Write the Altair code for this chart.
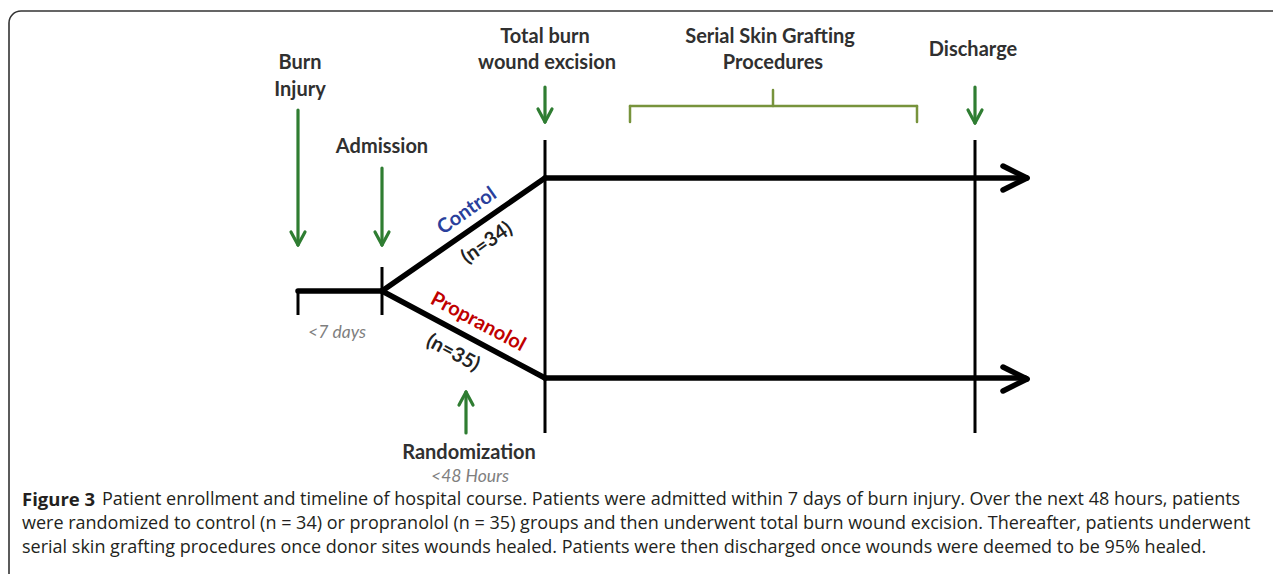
import altair as alt
import pandas as pd

# ---------------- diagram geometry (figure pixel units) ----------------
# thick black timeline segments
thick_x  = [298, 382, 382, 545, 545, 1003, 1027, 1003, 1027]
thick_y  = [291, 291, 291, 178, 378, 166, 178, 367, 379]
thick_x2 = [382, 545, 545, 1025, 1025, 1027, 1003, 1027, 1003]
thick_y2 = [291, 178, 378, 178, 378, 178, 190, 379, 391]

# thin black vertical milestone lines
thin_x  = [298, 382, 545, 975]
thin_y  = [292, 267, 140, 140]
thin_y2 = [315, 315, 433, 433]

# green arrows: shaft start/end (tip at end)
arrow_x   = [298, 382, 545, 975, 466]
arrow_y0  = [110, 168, 87, 87, 433]
arrow_tip = [245, 245, 122, 123, 392]

# olive brace
brace_x  = [630, 630, 917, 773]
brace_y  = [122, 106, 106, 106]
brace_x2 = [630, 917, 917, 773]
brace_y2 = [106, 106, 122, 90]

# labels
label_text = ["Burn", "Injury", "Admission", "Total burn", "wound excision",
              "Serial Skin Grafting", "Procedures", "Discharge", "Randomization"]
label_x = [300, 300, 382, 545, 547, 770, 773, 973, 469]
label_y = [63, 90, 147, 37, 63, 37, 63, 50, 453]

note_text = ["<7 days", "<48 Hours"]
note_x = [337, 470]
note_y = [333, 477]

arm_text  = ["Control", "(n=34)", "Propranolol", "(n=35)"]
arm_x     = [467, 487, 478, 453]
arm_y     = [211, 243, 322, 353]
arm_angle = [325, 325, 28, 28]
arm_color = ["#2a3f9c", "#222222", "#c00000", "#222222"]

cap_bold_text = ["Figure 3"]
cap_bold_x = [22]
cap_bold_y = [500]
cap_text = [
    "Patient enrollment and timeline of hospital course. Patients were admitted within 7 days of burn injury. Over the next 48 hours, patients",
    "were randomized to control (n = 34) or propranolol (n = 35) groups and then underwent total burn wound excision. Thereafter, patients underwent",
    "serial skin grafting procedures once donor sites wounds healed. Patients were then discharged once wounds were deemed to be 95% healed.",
]
cap_x = [102, 22, 22]
cap_y = [500, 524, 548]

# ---------------- build tables ----------------
GREEN = "#2f7d32"
X = alt.Scale(domain=[8, 1273])
Y = alt.Scale(domain=[8, 574], reverse=True)

def xq(f):
    return alt.X(f + ":Q", scale=X, axis=None)

def yq(f):
    return alt.Y(f + ":Q", scale=Y, axis=None)

thick = pd.DataFrame({"x": thick_x, "y": thick_y, "x2": thick_x2, "y2": thick_y2})
thin = pd.DataFrame({"x": thin_x, "y": thin_y, "x2": thin_x, "y2": thin_y2})

rows = []
for x, y0, t in zip(arrow_x, arrow_y0, arrow_tip):
    d = 1 if t > y0 else -1
    rows.append({"x": x, "y": y0, "x2": x, "y2": t - d * 2})
    rows.append({"x": x - 7, "y": t - d * 13, "x2": x, "y2": t})
    rows.append({"x": x + 7, "y": t - d * 13, "x2": x, "y2": t})
arrows = pd.DataFrame(rows)

brace = pd.DataFrame({"x": brace_x, "y": brace_y, "x2": brace_x2, "y2": brace_y2})
labels = pd.DataFrame({"t": label_text, "x": label_x, "y": label_y})
notes = pd.DataFrame({"t": note_text, "x": note_x, "y": note_y})
arms = pd.DataFrame({"t": arm_text, "x": arm_x, "y": arm_y, "a": arm_angle, "c": arm_color})
capb = pd.DataFrame({"t": cap_bold_text, "x": cap_bold_x, "y": cap_bold_y})
cap = pd.DataFrame({"t": cap_text, "x": cap_x, "y": cap_y})
frame = pd.DataFrame({"x": [9], "x2": [1320], "y": [11], "y2": [600]})

def seg(df, **kw):
    return alt.Chart(df).mark_rule(**kw).encode(
        x=xq("x"), y=yq("y"), x2="x2:Q", y2="y2:Q")

border = alt.Chart(frame).mark_rect(
    fill=None, stroke="#333333", strokeWidth=1.6, cornerRadius=12
).encode(x=xq("x"), x2="x2:Q", y=yq("y"), y2="y2:Q")

layers = [
    border,
    seg(thin, color="black", strokeWidth=3),
    seg(thick, color="black", strokeWidth=5.5, strokeCap="round"),
    seg(arrows, color=GREEN, strokeWidth=3.2, strokeCap="round"),
    seg(brace, color="#77933c", strokeWidth=2.5, strokeCap="round"),
    alt.Chart(labels).mark_text(font="Lato", fontWeight="bold", fontSize=20,
                                color="#303030", baseline="middle", align="center").encode(
        x=xq("x"), y=yq("y"), text="t:N"),
    alt.Chart(notes).mark_text(font="Lato", fontStyle="italic", fontSize=17.5,
                               color="#7f7f7f", baseline="middle", align="center").encode(
        x=xq("x"), y=yq("y"), text="t:N"),
    alt.Chart(arms).mark_text(font="Lato", fontWeight="bold", fontSize=20,
                              baseline="middle", align="center").encode(
        x=xq("x"), y=yq("y"), text="t:N",
        angle=alt.Angle("a:Q", scale=None), color=alt.Color("c:N", scale=None)),
    alt.Chart(capb).mark_text(font="Open Sans", fontWeight="bold", fontSize=18.5, color="#231f20",
                              baseline="middle", align="left").encode(
        x=xq("x"), y=yq("y"), text="t:N"),
    alt.Chart(cap).mark_text(font="Open Sans", fontSize=18, color="#231f20",
                             baseline="middle", align="left").encode(
        x=xq("x"), y=yq("y"), text="t:N"),
]

chart = alt.layer(*layers).properties(
    width=1265, height=566,
    autosize=alt.AutoSizeParams(type="none"),
    padding=0,
).configure_view(stroke=None)

chart.save("out.html", embed_options={"renderer": "svg", "actions": False})
